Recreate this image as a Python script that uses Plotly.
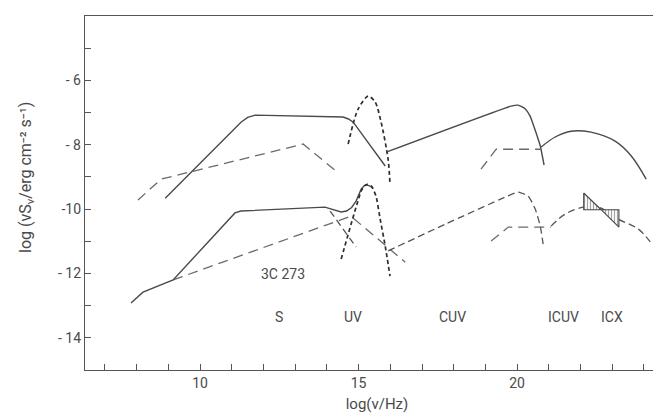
import plotly.graph_objects as go

# ---- data (log nu [Hz], log nuS_nu [erg cm^-2 s^-1]) ----
upper_s_x = [8.90, 11.29, 11.50, 11.74, 14.51, 14.68, 14.83, 15.84]
upper_s_y = [-9.66, -7.30, -7.15, -7.08, -7.14, -7.20, -7.30, -8.66]

upper_uv_x = [14.67, 14.98, 15.30, 15.52, 15.71, 15.93, 15.99]
upper_uv_y = [-7.98, -6.90, -6.49, -6.67, -7.30, -8.45, -9.22]

upper_ics_x = [8.04, 8.77, 13.25, 14.29]
upper_ics_y = [-9.72, -9.07, -7.98, -8.82]

upper_cuv_x = [15.87, 19.81, 20.03, 20.25, 20.41, 20.57, 20.73, 20.85]
upper_cuv_y = [-8.23, -6.80, -6.77, -6.88, -7.11, -7.55, -8.04, -8.63]

upper_icuv_x = [18.86, 19.34, 20.76]
upper_icuv_y = [-8.76, -8.14, -8.14]

upper_icx_x = [20.76, 21.20, 21.70, 22.33, 23.09, 23.60, 24.07]
upper_icx_y = [-8.07, -7.76, -7.58, -7.61, -7.89, -8.35, -9.07]

lower_s_x = [7.82, 8.20, 9.15, 11.10, 11.29, 13.94, 14.04, 14.30, 14.45, 14.62, 14.78,
             14.92, 15.08, 15.18, 15.24, 15.35, 15.46]
lower_s_y = [-12.92, -12.58, -12.20, -10.12, -10.06, -9.94, -9.97, -10.06, -10.09, -10.06, -9.95,
             -9.75, -9.38, -9.27, -9.25, -9.28, -9.35]

lower_sfall_x = [14.10, 14.92]
lower_sfall_y = [-10.06, -11.18]

lower_uv_x = [14.45, 15.08, 15.18, 15.28, 15.40, 15.55, 15.68, 15.84, 15.99]
lower_uv_y = [-11.55, -9.44, -9.28, -9.23, -9.28, -9.60, -10.31, -11.15, -12.08]

lower_ics_x = [9.15, 14.76, 16.47]
lower_ics_y = [-12.20, -10.22, -11.65]

lower_cuv_x = [15.93, 17.73, 19.62, 20.03, 20.35, 20.57, 20.73, 20.82]
lower_cuv_y = [-11.30, -10.47, -9.63, -9.47, -9.60, -10.00, -10.53, -11.09]

lower_icuv_x = [19.18, 19.72, 21.07]
lower_icuv_y = [-10.99, -10.56, -10.56]

lower_icx_x = [21.07, 21.51, 22.08, 22.56, 23.19, 23.82, 24.20]
lower_icx_y = [-10.53, -10.16, -9.94, -9.94, -10.31, -10.62, -11.02]

xray_left_x = [22.10, 22.10, 22.65, 22.10]
xray_left_y = [-9.50, -10.02, -10.02, -9.50]
xray_right_x = [22.65, 23.21, 23.21, 22.65]
xray_right_y = [-10.02, -10.02, -10.56, -10.02]

label_text = ["3C 273", "S", "UV", "CUV", "ICUV", "ICX"]
label_x = [12.62, 12.49, 14.83, 17.95, 21.45, 23.0]
label_y = [-12.02, -13.35, -13.35, -13.35, -13.35, -13.35]

x_major = [10, 15, 20]
x_major_labels = ["10", "15", "20"]
x_minor = [v for v in range(7, 25) if v not in x_major]
y_major = [-14, -12, -10, -8, -6]
y_major_labels = ["- 14", "- 12", "-10", "- 8", "- 6"]
y_minor = [-13, -11, -9, -7, -5]

# ---- styles ----
SOLID = dict(color="#4a4a4a", width=1.4)
LONGDASH = dict(color="#6a6a6a", width=1.3, dash="10px,6px")
SHORTDASH = dict(color="#2e2e2e", width=1.7, dash="4px,3px")
MEDDASH = dict(color="#555555", width=1.3, dash="7px,4px")

fig = go.Figure()

def add(x, y, line, shape="linear", smoothing=None):
    ln = dict(line)
    ln["shape"] = shape
    if smoothing is not None:
        ln["smoothing"] = smoothing
    fig.add_trace(go.Scatter(x=x, y=y, mode="lines", line=ln, hoverinfo="skip", showlegend=False))

add(upper_ics_x, upper_ics_y, LONGDASH)
add(upper_s_x, upper_s_y, SOLID)
add(upper_uv_x, upper_uv_y, SHORTDASH, "spline", 0.8)
add(upper_cuv_x, upper_cuv_y, SOLID, "spline", 0.4)
add(upper_icuv_x, upper_icuv_y, LONGDASH)
add(upper_icx_x, upper_icx_y, SOLID, "spline", 1.0)

add(lower_ics_x, lower_ics_y, LONGDASH)
add(lower_s_x, lower_s_y, SOLID)
add(lower_sfall_x, lower_sfall_y, MEDDASH)
add(lower_uv_x, lower_uv_y, SHORTDASH, "spline", 0.5)
add(lower_cuv_x, lower_cuv_y, MEDDASH, "spline", 0.5)
add(lower_icuv_x, lower_icuv_y, LONGDASH)
add(lower_icx_x, lower_icx_y, MEDDASH, "spline", 1.0)

for xs, ys in [(xray_left_x, xray_left_y), (xray_right_x, xray_right_y)]:
    fig.add_trace(go.Scatter(
        x=xs, y=ys, mode="lines", fill="toself",
        line=dict(color="#444444", width=1.1),
        fillcolor="white",
        fillpattern=dict(shape="|", fgcolor="#444444", bgcolor="white", size=3, solidity=0.4),
        hoverinfo="skip", showlegend=False))

annotations = [
    dict(x=lx, y=ly, xref="x", yref="y", text=t, showarrow=False,
         font=dict(family="Roboto", size=14, color="#4a4a4a"))
    for t, lx, ly in zip(label_text, label_x, label_y)
]
annotations.append(dict(
    x=-59 / 584, y=(362 - 170) / 354, xref="paper", yref="paper",
    text="log (νS<sub>ν</sub>/erg cm⁻² s⁻¹)",
    textangle=-90, showarrow=False, xanchor="center", yanchor="middle",
    font=dict(family="Roboto", size=16, color="#4a4a4a")))

fig.update_layout(
    width=661, height=418,
    margin=dict(l=77, r=0, t=8, b=56),
    paper_bgcolor="white", plot_bgcolor="white",
    font=dict(family="Roboto", size=14, color="#4a4a4a"),
    annotations=annotations,
)
fig.update_xaxes(
    range=[6.37, 24.79], tickmode="array", tickvals=x_major, ticktext=x_major_labels,
    ticks="inside", ticklen=6, tickcolor="#555", tickwidth=1.2,
    minor=dict(tickmode="array", tickvals=x_minor, ticks="inside", ticklen=6,
               tickcolor="#555", tickwidth=1.2, showgrid=False),
    showline=True, linecolor="#555", linewidth=1.4, mirror=True,
    showgrid=False, zeroline=False,
    title=dict(text="log(ν/Hz)", standoff=8, font=dict(size=15)),
)
fig.update_yaxes(
    range=[-15, -4], tickmode="array", tickvals=y_major, ticktext=y_major_labels,
    ticks="inside", ticklen=6, tickcolor="#555", tickwidth=1.2,
    minor=dict(tickmode="array", tickvals=y_minor, ticks="inside", ticklen=6,
               tickcolor="#555", tickwidth=1.2, showgrid=False),
    showline=True, linecolor="#555", linewidth=1.4, mirror=False,
    showgrid=False, zeroline=False,
)

fig.write_html("out.html")
